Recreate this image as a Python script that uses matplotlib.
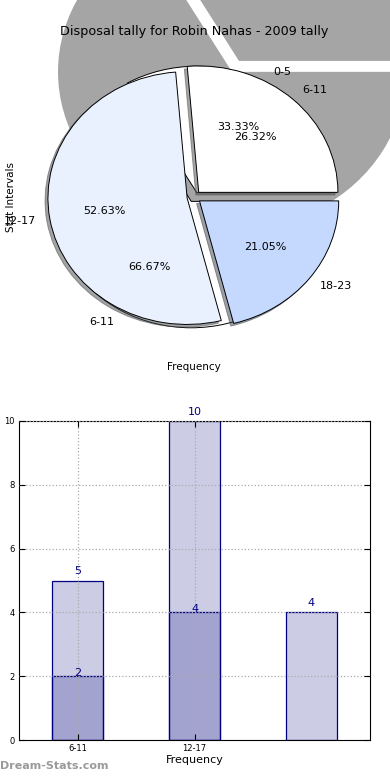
import numpy as np
import matplotlib
matplotlib.use("Agg")
import matplotlib.pyplot as plt

# pie data
front_labels = ['6-11', '12-17', '18-23']
front_vals = [5, 10, 4]
back_labels = ['0-5', '6-11']
back_vals = [2, 4]

# bar data
bar_ticks = ['6-11', '12-17', '']
bar_total = [5, 10, 4]
bar_part = [2, 4]

fig = plt.figure(figsize=(3.9, 7.8), dpi=100)

# ---- pie ----
ax1 = fig.add_axes([20 / 390, 1 - 355 / 780, 348 / 390, 316 / 780])

# big grey shadow-like pie behind everything
grey, _ = ax1.pie(back_vals, startangle=0, explode=(0.1, 0), center=(0.273, 0.99),
                  radius=1.25, colors=['#a5a5a5', '#a5a5a5'],
                  wedgeprops=dict(linewidth=0))
for w in grey:
    w.set_clip_on(False)
    w.set_zorder(0.1)

# second pie, mostly hidden under the first
w2, t2, a2 = ax1.pie(back_vals, labels=back_labels, autopct='%.2f%%', startangle=0,
                     explode=(0.04, 0.04), labeldistance=1.1, pctdistance=0.6,
                     colors=['white', 'white'],
                     wedgeprops=dict(edgecolor='black', linewidth=0.7),
                     textprops=dict(fontsize=8))
for w in w2:
    w.set_zorder(0.5)

w1, t1, a1 = ax1.pie(front_vals, labels=front_labels, autopct='%.2f%%', startangle=0,
                     explode=(0.05, 0.05, 0.05), labeldistance=1.1, pctdistance=0.6,
                     shadow=dict(ox=-0.015, oy=-0.015),
                     colors=['#ffffff', '#eaf1fe', '#c5d9fe'],
                     wedgeprops=dict(edgecolor='black', linewidth=0.7),
                     textprops=dict(fontsize=8))

ax1.set_aspect('auto')
ax1.set_xlim(-1.25, 1.25)
ax1.set_ylim(-1.25, 1.25)
ax1.set_title('Disposal tally for Robin Nahas - 2009 tally', fontsize=9.2, pad=3, zorder=5)
ax1.set_xlabel('Frequency', fontsize=7.5, labelpad=5)
ax1.set_ylabel('Stat Intervals', fontsize=7.5)
ax1.yaxis.set_label_coords(-0.012, 0.5)

# ---- bars ----
ax2 = fig.add_axes([19 / 390, 40 / 780, 351 / 390, 319 / 780])
x = np.arange(len(bar_total))
face = (0, 0, 0.5, 0.2)
ax2.bar(x, bar_total, width=0.44, color=face, edgecolor='navy', linewidth=0.9)
ax2.bar(x[:len(bar_part)], bar_part, width=0.44, color=face, edgecolor='navy', linewidth=0.9)
for xi, v in zip(x, bar_total):
    ax2.annotate(str(v), (xi, v), xytext=(0, 3), textcoords='offset points',
                 ha='center', va='bottom', color='navy', fontsize=8)
for xi, v in zip(x, bar_part):
    ax2.annotate(str(v), (xi, v), xytext=(0, -1), textcoords='offset points',
                 ha='center', va='bottom', color='navy', fontsize=8)

ax2.set_xlim(-0.5, 2.5)
ax2.set_ylim(0, 10)
ax2.set_xticks([0, 1])
ax2.set_xticklabels(bar_ticks[:2])
ax2.set_yticks(range(0, 11, 2))
ax2.tick_params(direction='in', length=4, labelsize=6, top=True, right=True, pad=3)
ax2.grid(True, linestyle=':', color='#aaaaaa', linewidth=0.9)
ax2.set_axisbelow(False)
ax2.set_xlabel('Frequency', fontsize=8, labelpad=1)
ax2.set_ylabel('Stat Intervals', fontsize=7.5)
ax2.yaxis.set_label_coords(-0.045, 0.5)

fig.text(0.0, 9 / 780, 'Dream-Stats.com', color='#9a9a9a', fontsize=8, fontweight='bold',
         ha='left', va='bottom')

fig.savefig('out.png', dpi=100)
